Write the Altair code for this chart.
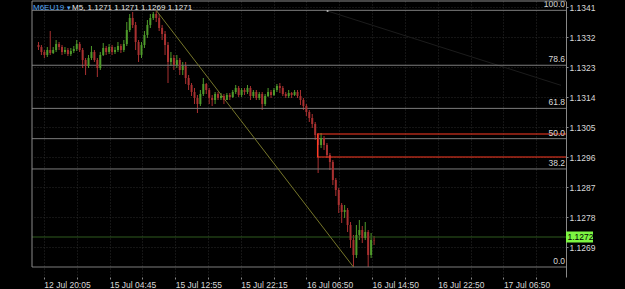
import altair as alt
import pandas as pd

# ---------------- data ----------------
symbol = "M6EU19"
arrow = "▾"
quote_info = "M5, 1.1271 1.1271 1.1269 1.1271"

x_labels = ["12 Jul 20:05", "15 Jul 04:45", "15 Jul 12:55", "15 Jul 22:15",
            "16 Jul 06:50", "16 Jul 14:50", "16 Jul 22:50", "17 Jul 06:50"]
price_ticks = [1.1341, 1.1332, 1.1323, 1.1314, 1.1305, 1.1296, 1.1287, 1.1278, 1.1269]

first_open = 1.13296
close = [1.13290, 1.13275, 1.13266, 1.13281, 1.13272, 1.13281, 1.13299, 1.13290, 1.13275, 1.13281,
         1.13269, 1.13278, 1.13284, 1.13299, 1.13281, 1.13251, 1.13233, 1.13257, 1.13275, 1.13251,
         1.13227, 1.13266, 1.13287, 1.13275, 1.13290, 1.13275, 1.13281, 1.13293, 1.13281, 1.13299,
         1.13341, 1.13377, 1.13356, 1.13305, 1.13266, 1.13296, 1.13326, 1.13356, 1.13377, 1.13389,
         1.13377, 1.13347, 1.13329, 1.13296, 1.13245, 1.13257, 1.13236, 1.13251, 1.13221, 1.13233,
         1.13197, 1.13176, 1.13155, 1.13137, 1.13119, 1.13149, 1.13179, 1.13161, 1.13137, 1.13131,
         1.13149, 1.13137, 1.13143, 1.13131, 1.13146, 1.13140, 1.13155, 1.13167, 1.13146, 1.13161,
         1.13155, 1.13167, 1.13143, 1.13155, 1.13137, 1.13149, 1.13119, 1.13143, 1.13155, 1.13146,
         1.13161, 1.13173, 1.13167, 1.13149, 1.13143, 1.13152, 1.13146, 1.13155, 1.13143, 1.13131,
         1.13113, 1.13095, 1.13077, 1.13059, 1.13026, 1.12996, 1.13017, 1.12996, 1.12966, 1.12945,
         1.12891, 1.12861, 1.12816, 1.12795, 1.12801, 1.12756, 1.12711, 1.12666, 1.12726, 1.12741,
         1.12717, 1.12735, 1.12666, 1.12711, 1.12710]
high = [1.13305, 1.13296, 1.13281, 1.13290, 1.13338, 1.13290, 1.13311, 1.13305, 1.13296, 1.13290,
        1.13287, 1.13287, 1.13293, 1.13311, 1.13305, 1.13287, 1.13257, 1.13266, 1.13293, 1.13281,
        1.13257, 1.13275, 1.13302, 1.13293, 1.13299, 1.13296, 1.13290, 1.13305, 1.13299, 1.13311,
        1.13365, 1.13389, 1.13395, 1.13365, 1.13311, 1.13305, 1.13338, 1.13371, 1.13389, 1.13395,
        1.13400, 1.13389, 1.13356, 1.13338, 1.13305, 1.13275, 1.13266, 1.13266, 1.13257, 1.13245,
        1.13245, 1.13206, 1.13182, 1.13167, 1.13146, 1.13161, 1.13197, 1.13182, 1.13167, 1.13146,
        1.13155, 1.13155, 1.13152, 1.13149, 1.13152, 1.13152, 1.13161, 1.13176, 1.13173, 1.13167,
        1.13167, 1.13176, 1.13173, 1.13161, 1.13161, 1.13155, 1.13155, 1.13149, 1.13167, 1.13161,
        1.13167, 1.13179, 1.13182, 1.13173, 1.13155, 1.13161, 1.13155, 1.13161, 1.13161, 1.13161,
        1.13137, 1.13119, 1.13101, 1.13089, 1.13065, 1.13032, 1.13032, 1.13023, 1.13002, 1.12972,
        1.12951, 1.12897, 1.12867, 1.12822, 1.12816, 1.12807, 1.12765, 1.12726, 1.12756, 1.12771,
        1.12753, 1.12765, 1.12741, 1.12732, 1.12723]
low = [1.13281, 1.13266, 1.13257, 1.13260, 1.13266, 1.13269, 1.13275, 1.13281, 1.13266, 1.13269,
       1.13263, 1.13263, 1.13272, 1.13278, 1.13275, 1.13227, 1.13206, 1.13227, 1.13251, 1.13245,
       1.13200, 1.13221, 1.13263, 1.13266, 1.13269, 1.13266, 1.13269, 1.13275, 1.13272, 1.13275,
       1.13293, 1.13335, 1.13347, 1.13281, 1.13245, 1.13257, 1.13287, 1.13317, 1.13347, 1.13371,
       1.13365, 1.13338, 1.13311, 1.13266, 1.13182, 1.13233, 1.13221, 1.13227, 1.13206, 1.13206,
       1.13179, 1.13161, 1.13143, 1.13119, 1.13092, 1.13113, 1.13143, 1.13149, 1.13119, 1.13113,
       1.13119, 1.13131, 1.13131, 1.13119, 1.13131, 1.13131, 1.13137, 1.13149, 1.13140, 1.13140,
       1.13146, 1.13149, 1.13131, 1.13137, 1.13131, 1.13131, 1.13101, 1.13113, 1.13140, 1.13137,
       1.13143, 1.13155, 1.13152, 1.13143, 1.13137, 1.13137, 1.13137, 1.13143, 1.13137, 1.13116,
       1.13101, 1.13083, 1.13065, 1.13047, 1.13011, 1.12912, 1.12987, 1.12981, 1.12957, 1.12921,
       1.12876, 1.12843, 1.12792, 1.12762, 1.12777, 1.12735, 1.12687, 1.12630, 1.12657, 1.12711,
       1.12702, 1.12711, 1.12630, 1.12657, 1.12696]

fib_ratios = [1.0, 0.786, 0.618, 0.5, 0.382, 0.0]
fib_labels = ["100.0", "78.6", "61.8", "50.0", "38.2", "0.0"]
fib_high, fib_low = 1.1340, 1.1263
fib_start_bar, fib_end_bar = 40.5, 107.5

zone_top, zone_bottom, zone_start_bar = 1.13029, 1.12960, 95.3
current_price = 1.1272
faint_line = {"x": [98.7], "x2": [178.0], "y": [1.13398], "y2": [1.13175]}

# ---------------- frames ----------------
opens = [first_open] + close[:-1]
candles = pd.DataFrame({"x": [i + 0.5 for i in range(len(close))], "open": opens,
                        "close": close, "high": high, "low": low})
candles["dir"] = ["up" if c >= o else "down" for o, c in zip(opens, close)]

fib = pd.DataFrame({"label": fib_labels,
                    "price": [fib_low + r * (fib_high - fib_low) for r in fib_ratios]})
diag = pd.DataFrame({"x": [fib_start_bar], "x2": [fib_end_bar], "y": [fib_high], "y2": [fib_low]})
zone = pd.DataFrame({"x": [zone_start_bar], "x2": [182.0], "y": [zone_top], "y2": [zone_bottom]})
cur = pd.DataFrame({"p": [current_price], "top": [current_price + 0.000165],
                    "bot": [current_price - 0.000165], "t": ["%.4f" % current_price]})
faint = pd.DataFrame(faint_line)

FONT = "Liberation Sans"
GRID = "#2a2a2a"
xs = alt.Scale(domain=[0, 178], nice=False, zero=False)
ys = alt.Scale(domain=[1.1260, 1.13428], nice=False, zero=False)

tick_vals = [round(2.33 + 11.15 * k, 3) for k in range(16)]
lab_arr = [x_labels[k // 2] if k % 2 == 0 else "" for k in range(16)]
label_expr = "[" + ",".join("'%s'" % s for s in lab_arr) + "][round((datum.value - 2.33) / 11.15)]"

xaxis = alt.Axis(values=tick_vals, labelExpr=label_expr, title=None, orient="bottom",
                 labelAlign="left", labelFont=FONT, labelFontSize=8.5, labelColor="#d8d8d8",
                 labelPadding=1, tickSize=2, tickColor="#888888", domain=False,
                 grid=True, gridColor=GRID, gridDash=[1, 2], labelOverlap=False, labelFlush=False)
yaxis = alt.Axis(values=price_ticks, format=".4f", title=None, orient="right",
                 labelFont=FONT, labelFontSize=8.5, labelColor="#d8d8d8", labelPadding=1,
                 tickSize=2, tickColor="#888888", domainColor="#888888",
                 grid=True, gridColor=GRID, gridDash=[1, 2], labelOverlap=False, labelFlush=False)


def X(f):
    return alt.X(f, scale=xs, axis=xaxis)


def Y(f):
    return alt.Y(f, scale=ys, axis=yaxis)


GREEN, RED = "#4e9a2a", "#a83030"
col = alt.Color("dir:N", scale=alt.Scale(domain=["up", "down"], range=[GREEN, RED]), legend=None)

wicks = alt.Chart(candles).mark_rule(strokeWidth=1).encode(
    x=X("x:Q"), y=Y("low:Q"), y2="high:Q", color=col)
bodies = alt.Chart(candles).mark_bar(size=2).encode(
    x=X("x:Q"), y=Y("open:Q"), y2="close:Q", color=col)

fib_lines = alt.Chart(fib).mark_rule(color="#7c7c7c", strokeWidth=1).encode(
    y=Y("price:Q"), x=alt.value(0), x2=alt.value(534))
fib_text = alt.Chart(fib).mark_text(align="right", baseline="bottom", dy=-1, font=FONT,
                                    fontSize=8.5, color="#d8d8d8").encode(
    y=Y("price:Q"), x=alt.value(533), text="label:N")

cur_line = alt.Chart(cur).mark_rule(color="#2f5a1f", strokeWidth=1).encode(
    y=Y("p:Q"), x=alt.value(0), x2=alt.value(534))
cur_box = alt.Chart(cur).mark_rect(color="#7cf542").encode(
    y=Y("top:Q"), y2="bot:Q", x=alt.value(534), x2=alt.value(561))
cur_text = alt.Chart(cur).mark_text(align="left", baseline="middle", font=FONT, fontSize=8.5,
                                    color="#000000").encode(
    y=Y("p:Q"), x=alt.value(535.5), text="t:N")

diag_line = alt.Chart(diag).mark_rule(color="#76762a", strokeWidth=1).encode(
    x=X("x:Q"), x2="x2:Q", y=Y("y:Q"), y2="y2:Q")
faint_rule = alt.Chart(faint).mark_rule(color="#1c1c1c", strokeWidth=1).encode(
    x=X("x:Q"), x2="x2:Q", y=Y("y:Q"), y2="y2:Q")
faint_dot = alt.Chart(faint).mark_square(size=3, color="#bbbbbb", opacity=1).encode(
    x=X("x:Q"), y=Y("y:Q"))

zone_rect = alt.Chart(zone).mark_rect(fillOpacity=0, stroke="#ff3a22", strokeWidth=1.2,
                                      clip=True).encode(
    x=X("x:Q"), x2="x2:Q", y=Y("y:Q"), y2="y2:Q")

frame_left = alt.Chart(cur).mark_rule(color="#8a8a8a").encode(
    x=alt.value(0), y=alt.value(0), y2=alt.value(266))
frame_top = alt.Chart(cur).mark_rule(color="#8a8a8a").encode(
    y=alt.value(0), x=alt.value(0), x2=alt.value(534))

title_df = pd.DataFrame({"s": [symbol], "a": [arrow], "q": [quote_info]})
t1 = alt.Chart(title_df).mark_text(align="left", baseline="alphabetic", font=FONT, fontSize=8,
                                   color="#5aaaf5").encode(text="s:N", x=alt.value(1), y=alt.value(8.5))
t2 = alt.Chart(title_df).mark_text(align="left", baseline="alphabetic", font=FONT, fontSize=7,
                                   color="#5aaaf5").encode(text="a:N", x=alt.value(34.5), y=alt.value(8.5))
t3 = alt.Chart(title_df).mark_text(align="left", baseline="alphabetic", font=FONT, fontSize=8,
                                   color="#e8e8e8").encode(text="q:N", x=alt.value(40), y=alt.value(8.5))

chart = alt.layer(
    wicks, faint_rule, fib_lines, cur_line, diag_line, bodies, zone_rect, faint_dot,
    fib_text, cur_box, cur_text, frame_left, frame_top, t1, t2, t3
).properties(
    width=534, height=276,
    autosize=alt.AutoSizeParams(type="none"),
    padding={"left": 32, "top": 1, "right": 59, "bottom": 12},
    background="#000000",
).configure_view(strokeWidth=0)

chart.save("out.html", embed_options={"renderer": "svg", "actions": False})
